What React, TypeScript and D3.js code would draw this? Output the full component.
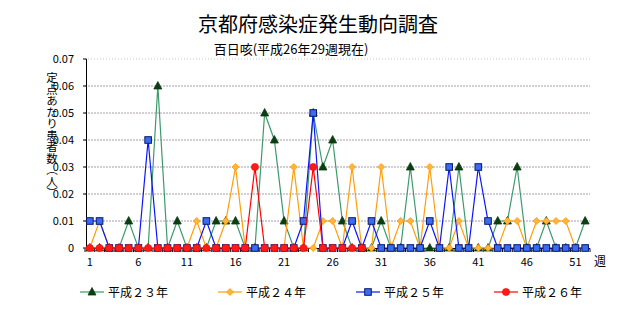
import * as d3 from "d3";

// weeks 1..52
const weeks = d3.range(1, 53);
const weekLabels = [1, 6, 11, 16, 21, 26, 31, 36, 41, 46, 51];
const yTicks = [0, 0.01, 0.02, 0.03, 0.04, 0.05, 0.06, 0.07];

// 定点あたり患者数 per week
const h23 = [
  0, 0, 0, 0, 0.01, 0, 0, 0.06, 0, 0.01, 0, 0, 0, 0.01, 0.01, 0.01, 0, 0, 0.05, 0.04,
  0.01, 0, 0, 0.05, 0.03, 0.04, 0.01, 0, 0, 0, 0.01, 0, 0, 0.03, 0, 0, 0, 0, 0.03, 0,
  0, 0, 0.01, 0.01, 0.03, 0, 0, 0.01, 0, 0, 0, 0.01,
];
const h24 = [
  0, 0.01, 0, 0, 0, 0, 0, 0, 0, 0, 0, 0.01, 0, 0, 0.01, 0.03, 0, 0, 0, 0,
  0, 0.03, 0, 0, 0.01, 0.01, 0, 0.03, 0, 0, 0.03, 0, 0.01, 0.01, 0, 0.03, 0, 0, 0.01, 0,
  0, 0, 0, 0.01, 0.01, 0, 0.01, 0.01, 0.01, 0.01, 0, 0,
];
const h25 = [
  0.01, 0.01, 0, 0, 0, 0, 0.04, 0, 0, 0, 0, 0, 0.01, 0, 0, 0, 0, 0, 0, 0,
  0, 0, 0.01, 0.05, 0, 0, 0, 0.01, 0, 0.01, 0, 0, 0, 0, 0, 0.01, 0, 0.03, 0, 0,
  0.03, 0.01, 0, 0, 0, 0, 0, 0, 0, 0, 0, 0,
];
// 平成26年 is reported up to week 29
const h26 = [
  0, 0, 0, 0, 0, 0, 0, 0, 0, 0, 0, 0, 0, 0, 0, 0, 0, 0.03, 0, 0,
  0, 0, 0, 0.03, 0, 0, 0, 0, 0,
];

const series = [
  { name: "平成２３年", values: h23, line: "#3c9a6c", marker: "triangle" },
  { name: "平成２４年", values: h24, line: "#ff9d0a", marker: "diamond" },
  { name: "平成２５年", values: h25, line: "#0a14ff", marker: "square" },
  { name: "平成２６年", values: h26, line: "#ff0000", marker: "circle" },
];

const font = "'Noto Sans CJK JP', 'Noto Sans', sans-serif";

function Marker({ kind, x, y }: { kind: string; x: number; y: number }) {
  if (kind === "triangle")
    return (
      <path
        d={`M${x},${y - 4.5}L${x + 4},${y + 3}L${x - 4},${y + 3}Z`}
        fill="#0b3d12"
        stroke="#0b3d12"
        strokeWidth={0.8}
      />
    );
  if (kind === "diamond")
    return (
      <path
        d={`M${x},${y - 3.5}L${x + 3.5},${y}L${x},${y + 3.5}L${x - 3.5},${y}Z`}
        fill="#ffb43c"
        stroke="#ff9d0a"
        strokeWidth={0.8}
      />
    );
  if (kind === "square")
    return (
      <rect x={x - 3.3} y={y - 3.3} width={6.6} height={6.6} fill="#3a6cf0" stroke="#0a1a6e" strokeWidth={1} />
    );
  return <circle cx={x} cy={y} r={3.6} fill="#ff1a1a" stroke="#ff0000" strokeWidth={0.6} />;
}

export default function App() {
  const x = d3.scaleBand<number>().domain(weeks).range([85, 590]).paddingInner(0).paddingOuter(0);
  const cx = (w: number) => (x(w) as number) + x.bandwidth() / 2;
  const y = d3.scaleLinear().domain([0, 0.07]).range([248, 59]);

  const line = d3
    .line<number>()
    .x((_, i) => cx(weeks[i]))
    .y((d) => y(d));

  const legendX = [92, 230, 368, 506];

  return (
    <svg
      width={644}
      height={310}
      style={{ position: "absolute", left: 0, top: 0, background: "#fff", fontFamily: font }}
    >
      <text x={318} y={32} textAnchor="middle" fontSize={20} fill="#000">
        京都府感染症発生動向調査
      </text>
      <text x={291} y={54} textAnchor="middle" fontSize={13} fill="#000">
        百日咳(平成26年29週現在)
      </text>

      {/* grid */}
      {yTicks.slice(1).map((t) => (
        <line
          key={t}
          x1={85}
          x2={590}
          y1={y(t)}
          y2={y(t)}
          stroke={t === 0.07 ? "#c8c8c8" : "#a89cae"}
          strokeDasharray={t === 0.07 ? "1,2" : "2,1"}
          strokeWidth={1}
        />
      ))}

      {/* y axis */}
      <line x1={86.5} x2={86.5} y1={y(0.07)} y2={y(0)} stroke="#000" />
      {yTicks.map((t) => (
        <g key={t}>
          <line x1={83} x2={86.5} y1={y(t)} y2={y(t)} stroke="#000" />
          <text x={74} y={y(t) + 4} textAnchor="end" fontSize={11} fill="#000">
            {t === 0 ? "0" : d3.format(".2f")(t)}
          </text>
        </g>
      ))}
      <text
        x={52}
        y={72}
        fontSize={11.5}
        fill="#000"
        style={{ writingMode: "vertical-rl" }}
      >
        定点あたり患者数（人）
      </text>

      {/* x axis */}
      <line x1={86} x2={590} y1={248.5} y2={248.5} stroke="#000" />
      {weeks.concat([53]).map((w) => {
        const xx = w === 53 ? 590 : (x(w) as number);
        return <line key={w} x1={xx} x2={xx} y1={248.5} y2={252} stroke="#000" />;
      })}
      {weekLabels.map((w) => (
        <text key={w} x={cx(w)} y={266} textAnchor="middle" fontSize={11} fill="#000">
          {w}
        </text>
      ))}
      <text x={600} y={266} textAnchor="middle" fontSize={12} fill="#000">
        週
      </text>

      {/* series */}
      {series.map((s) => (
        <g key={s.name}>
          <path d={line(s.values) || ""} fill="none" stroke={s.line} strokeWidth={1.2} />
          {s.values.map((v, i) => (
            <Marker key={i} kind={s.marker} x={cx(weeks[i])} y={y(v)} />
          ))}
        </g>
      ))}

      {/* legend */}
      {series.map((s, i) => (
        <g key={s.name}>
          <line x1={legendX[i] - 12} x2={legendX[i] + 12} y1={292} y2={292} stroke={s.line} strokeWidth={1.2} />
          <Marker kind={s.marker} x={legendX[i]} y={292} />
          <text x={legendX[i] + 16} y={296.5} fontSize={12} fill="#000">
            {s.name}
          </text>
        </g>
      ))}
    </svg>
  );
}
